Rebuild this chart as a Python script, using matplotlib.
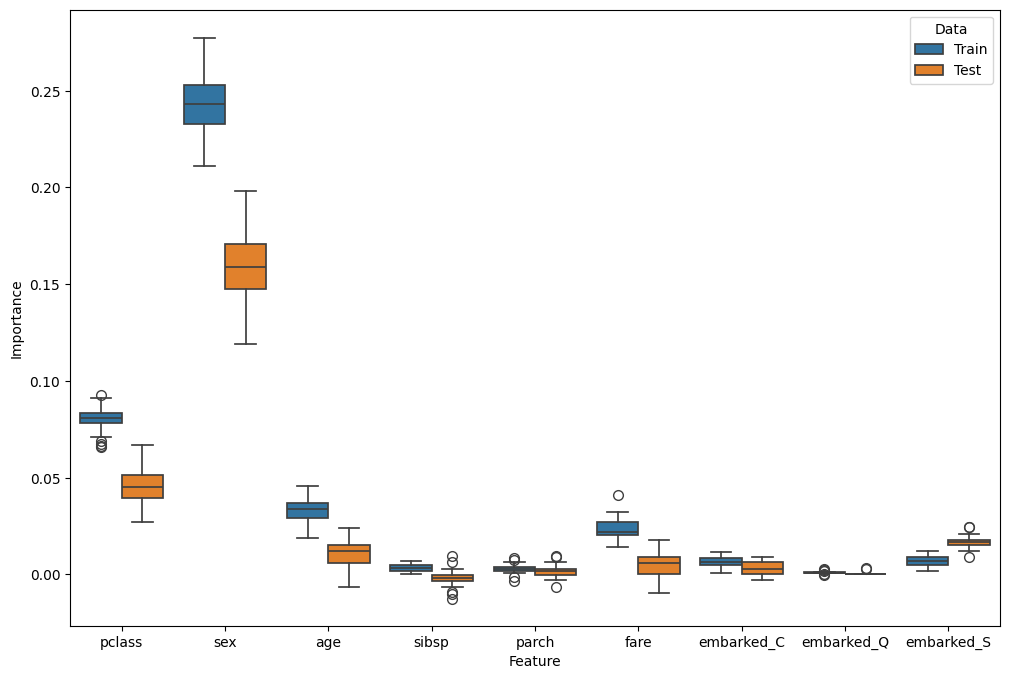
import matplotlib
matplotlib.use("Agg")
import matplotlib.pyplot as plt
from matplotlib.patches import Patch

features = ["pclass", "sex", "age", "sibsp", "parch", "fare",
            "embarked_C", "embarked_Q", "embarked_S"]
groups = ["Train", "Test"]

# five-number summaries: whislo, q1, med, q3, whishi
train_stats = [
    [0.0713, 0.0785, 0.0811, 0.0837, 0.0911],
    [0.2112, 0.2328, 0.2431, 0.2527, 0.2773],
    [0.0190, 0.0293, 0.0336, 0.0371, 0.0459],
    [0.0000, 0.0019, 0.0035, 0.0050, 0.0071],
    [0.0009, 0.0019, 0.0030, 0.0040, 0.0062],
    [0.0143, 0.0205, 0.0219, 0.0273, 0.0324],
    [0.0010, 0.0050, 0.0066, 0.0086, 0.0114],
    [0.0006, 0.0009, 0.0010, 0.0011, 0.0013],
    [0.0019, 0.0050, 0.0071, 0.0092, 0.0123],
]
test_stats = [
    [0.0273, 0.0397, 0.0454, 0.0516, 0.0671],
    [0.1190, 0.1475, 0.1589, 0.1707, 0.1979],
    [-0.0064, 0.0061, 0.0121, 0.0154, 0.0242],
    [-0.0064, -0.0033, -0.0017, -0.0002, 0.0029],
    [-0.0031, -0.0002, 0.0017, 0.0029, 0.0062],
    [-0.0095, 0.0000, 0.0061, 0.0092, 0.0180],
    [-0.0031, 0.0000, 0.0029, 0.0062, 0.0092],
    [0.0000, 0.0000, 0.0000, 0.0000, 0.0000],
    [0.0123, 0.0154, 0.0166, 0.0180, 0.0211],
]
train_fliers = [
    [0.0928, 0.0688, 0.0676, 0.0665, 0.0660],
    [],
    [],
    [],
    [0.0086, 0.0074, -0.0014, -0.0036],
    [0.0409],
    [],
    [0.0028, 0.0022, 0.0016, 0.0004, -0.0001],
    [],
]
test_fliers = [
    [],
    [],
    [],
    [0.0097, 0.0062, -0.0093, -0.0103, -0.0125],
    [0.0097, 0.0090, -0.0064],
    [],
    [],
    [0.0031, 0.0029],
    [0.0245, 0.0243, 0.0092],
]

colors = ["#3274a1", "#e1812c"]
line_color = "#3f3f3f"


def make_stats(summary, fliers):
    out = []
    for s, f in zip(summary, fliers):
        out.append({"whislo": s[0], "q1": s[1], "med": s[2], "q3": s[3],
                    "whishi": s[4], "fliers": f})
    return out


fig, ax = plt.subplots(figsize=(12, 8))

for i, (stats, fliers) in enumerate([(train_stats, train_fliers), (test_stats, test_fliers)]):
    positions = [k - 0.2 + 0.4 * i for k in range(len(features))]
    ax.bxp(
        make_stats(stats, fliers),
        positions=positions,
        widths=0.4,
        patch_artist=True,
        boxprops=dict(facecolor=colors[i], edgecolor=line_color, linewidth=1.25),
        medianprops=dict(color=line_color, linewidth=1.25),
        whiskerprops=dict(color=line_color, linewidth=1.25),
        capprops=dict(color=line_color, linewidth=1.25),
        flierprops=dict(marker="o", markerfacecolor="none",
                        markeredgecolor=line_color, markersize=7, linewidth=0),
        capwidths=0.2,
        manage_ticks=False,
    )

ax.set_xticks(range(len(features)))
ax.set_xticklabels(features)
ax.set_xlim(-0.5, len(features) - 0.5)
ax.set_ylim(-0.0264, 0.2919)
ax.set_xlabel("Feature")
ax.set_ylabel("Importance")

handles = [Patch(facecolor=c, edgecolor=line_color, linewidth=1.25) for c in colors]
ax.legend(handles, groups, title="Data", loc="upper right")

plt.savefig("out.png", dpi=100, bbox_inches="tight")
plt.close()
